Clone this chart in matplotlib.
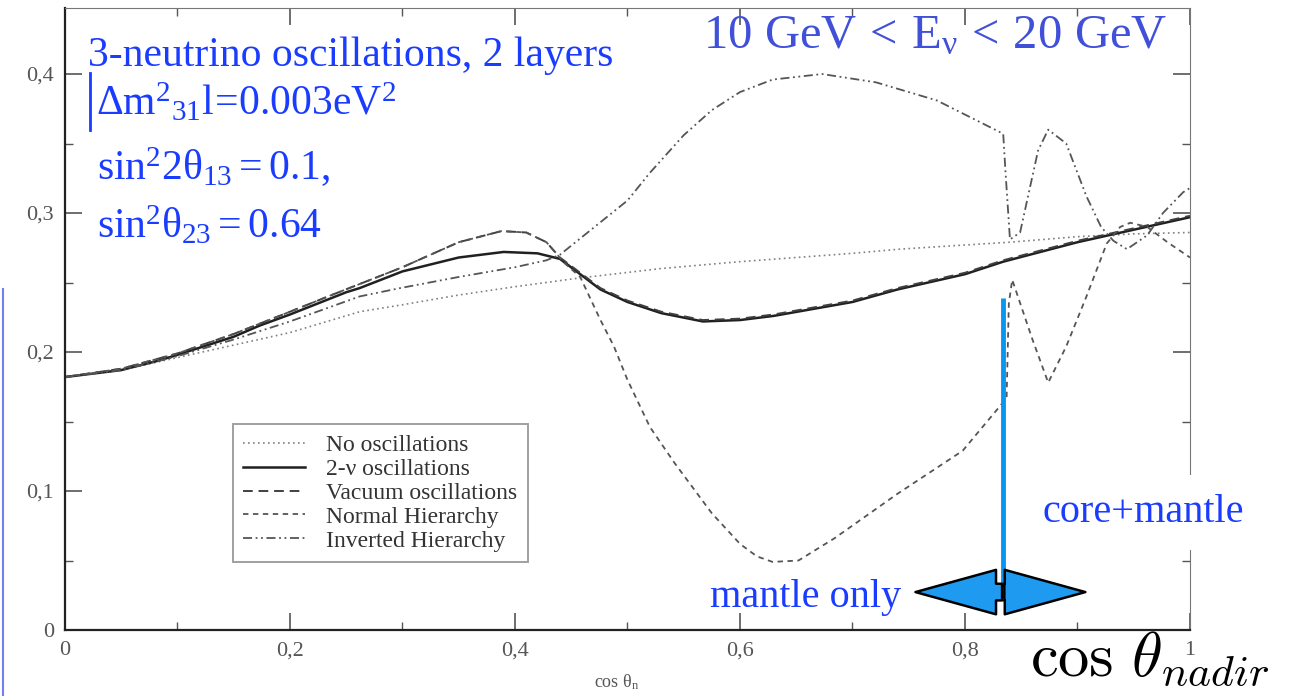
import matplotlib
matplotlib.use('Agg')
import matplotlib.pyplot as plt
from matplotlib.ticker import MultipleLocator, FuncFormatter

# curves (cos theta_nadir, fraction)
x_noosc = [0, 0.05, 0.1, 0.15, 0.2, 0.262, 0.3, 0.35, 0.4, 0.455, 0.529, 0.6, 0.7, 0.742, 0.8, 0.84, 0.9, 0.95, 1.0]
y_noosc = [0.182, 0.187, 0.196, 0.205, 0.214, 0.229, 0.234, 0.241, 0.247, 0.253, 0.260, 0.265, 0.271, 0.274, 0.277, 0.279, 0.283, 0.285, 0.286]

x_2nu = [0, 0.05, 0.084, 0.1, 0.15, 0.173, 0.2, 0.25, 0.262, 0.3, 0.35, 0.39, 0.42, 0.44, 0.476, 0.5, 0.53, 0.567,
         0.6, 0.63, 0.7, 0.74, 0.8, 0.834, 0.9, 0.95, 1.0]
y_2nu = [0.182, 0.187, 0.194, 0.198, 0.211, 0.219, 0.227, 0.243, 0.246, 0.258, 0.268, 0.272, 0.271, 0.267, 0.245, 0.236,
         0.228, 0.222, 0.223, 0.226, 0.236, 0.245, 0.256, 0.265, 0.279, 0.288, 0.297]

x_vac = [0, 0.05, 0.1, 0.15, 0.2, 0.237, 0.3, 0.311, 0.35, 0.388, 0.41, 0.428, 0.44, 0.476, 0.5, 0.53, 0.567,
         0.6, 0.63, 0.7, 0.74, 0.8, 0.834, 0.9, 0.95, 1.0]
y_vac = [0.182, 0.188, 0.199, 0.213, 0.229, 0.241, 0.261, 0.265, 0.279, 0.287, 0.286, 0.279, 0.268, 0.246, 0.237,
         0.229, 0.223, 0.224, 0.227, 0.237, 0.246, 0.257, 0.266, 0.280, 0.289, 0.298]

x_nh = [0, 0.05, 0.1, 0.15, 0.2, 0.237, 0.3, 0.311, 0.35, 0.388, 0.41, 0.428, 0.444, 0.458, 0.476, 0.488, 0.5,
        0.52, 0.542, 0.575, 0.6, 0.615, 0.629, 0.652, 0.684, 0.74, 0.798, 0.83, 0.837, 0.839, 0.842, 0.86, 0.874,
        0.89, 0.908, 0.926, 0.938, 0.947, 0.962, 0.98, 1.0]
y_nh = [0.182, 0.188, 0.199, 0.213, 0.229, 0.241, 0.261, 0.265, 0.279, 0.287, 0.286, 0.279, 0.264, 0.254, 0.223,
        0.204, 0.180, 0.146, 0.120, 0.084, 0.062, 0.053, 0.049, 0.050, 0.066, 0.098, 0.129, 0.160, 0.167, 0.235, 0.252,
        0.209, 0.178, 0.204, 0.240, 0.278, 0.290, 0.293, 0.290, 0.279, 0.268]

x_ih = [0, 0.05, 0.1, 0.15, 0.2, 0.262, 0.298, 0.35, 0.4, 0.428, 0.44, 0.46, 0.5, 0.52, 0.55, 0.575, 0.6, 0.629,
        0.673, 0.721, 0.775, 0.834, 0.836, 0.84, 0.849, 0.865, 0.874, 0.89, 0.908, 0.921, 0.932, 0.944, 0.962,
        0.976, 0.994, 1.0]
y_ih = [0.182, 0.187, 0.197, 0.209, 0.222, 0.240, 0.246, 0.254, 0.261, 0.266, 0.270, 0.283, 0.309, 0.329, 0.356,
        0.374, 0.387, 0.396, 0.400, 0.394, 0.381, 0.357, 0.330, 0.281, 0.286, 0.345, 0.360, 0.350, 0.312, 0.290,
        0.280, 0.274, 0.284, 0.300, 0.315, 0.318]

BLUE = '#1a3cff'
SERIF = ['Liberation Serif', 'DejaVu Serif']


def main():
    plt.rcParams['mathtext.fontset'] = 'custom'
    plt.rcParams['mathtext.rm'] = 'Liberation Serif'
    plt.rcParams['mathtext.it'] = 'Liberation Serif'
    plt.rcParams['mathtext.bf'] = 'Liberation Serif:bold'

    fig = plt.figure(figsize=(12.94, 6.96), dpi=100)
    ax = fig.add_axes([0.0502, 0.0948, 0.8694, 0.8937])

    ax.plot(x_noosc, y_noosc, color='#808080', lw=1.2, ls=(0, (1, 2)), label='No oscillations')
    ax.plot(x_2nu, y_2nu, color='#202020', lw=1.8, ls='-', label='2-\u03bd oscillations')
    ax.plot(x_vac, y_vac, color='#404040', lw=1.4, ls=(0, (5, 3)), label='Vacuum oscillations')
    ax.plot(x_nh, y_nh, color='#555555', lw=1.3, ls=(0, (3, 2.5)), label='Normal Hierarchy')
    ax.plot(x_ih, y_ih, color='#555555', lw=1.3, ls=(0, (5, 2, 1, 2, 1, 2)), label='Inverted Hierarchy')

    ax.set_xlim(0, 1)
    ax.set_ylim(0, 0.4475)
    ax.xaxis.set_major_locator(MultipleLocator(0.2))
    ax.xaxis.set_minor_locator(MultipleLocator(0.1))
    ax.yaxis.set_major_locator(MultipleLocator(0.1))
    ax.yaxis.set_minor_locator(MultipleLocator(0.05))
    fmt = FuncFormatter(lambda v, p: ('%g' % round(v, 3)).replace('.', ','))
    ax.xaxis.set_major_formatter(fmt)
    ax.yaxis.set_major_formatter(fmt)
    ax.tick_params(which='both', direction='in', top=True, right=True, colors='#555555',
                   labelsize=16, pad=8)
    ax.tick_params(which='major', length=12, width=1.2)
    ax.tick_params(which='minor', length=6, width=1.0)
    for lab in ax.get_xticklabels() + ax.get_yticklabels():
        lab.set_fontfamily(SERIF)
    for side in ['top', 'right']:
        ax.spines[side].set_color('#777777')
    for side in ['left', 'bottom']:
        ax.spines[side].set_color('#222222')
        ax.spines[side].set_linewidth(1.6)

    ax.set_xlabel(r'cos $\theta_{\rm n}$', fontsize=13, color='#555555', family=SERIF,
                  math_fontfamily='custom')
    ax.xaxis.set_label_coords(0.49, -0.068)

    leg = ax.legend(loc='lower left', bbox_to_anchor=(0.149, 0.109), borderaxespad=0,
                    prop={'family': SERIF, 'size': 17},
                    frameon=True, fancybox=False, edgecolor='#888888', handlelength=2.6,
                    labelspacing=0.1, borderpad=0.45, handletextpad=0.9)
    leg.get_frame().set_linewidth(1.4)
    for t in leg.get_texts():
        t.set_color('#333333')

    # blue annotations
    fig.text(0.068, 0.905, '3-neutrino oscillations, 2 layers', color=BLUE, fontsize=30, family=SERIF)
    fig.add_artist(plt.Line2D([0.0695, 0.0695], [0.813, 0.895], color=BLUE, lw=2))
    fig.text(0.074, 0.835, r'$\Delta\mathrm{m}^2{}_{31}\mathrm{l}\!=\!0.003\mathrm{eV}^2$', color=BLUE,
             fontsize=30, math_fontfamily='custom')
    fig.text(0.075, 0.741, r'$\mathrm{sin}^2 2\theta_{13} = 0.1,$', color=BLUE, fontsize=30,
             math_fontfamily='custom')
    fig.text(0.075, 0.658, r'$\mathrm{sin}^2\theta_{23} = 0.64$', color=BLUE, fontsize=30,
             math_fontfamily='custom')
    fig.text(0.543, 0.931, r'$10\ \mathrm{GeV}\,<\,\mathrm{E}_\nu\,<\,20\ \mathrm{GeV}$', color='#4050d8',
             fontsize=35, math_fontfamily='custom')

    fig.text(0.806, 0.25, 'core+mantle', color=BLUE, fontsize=29, family=SERIF,
             bbox=dict(facecolor='white', edgecolor='none', pad=14))
    fig.text(0.549, 0.128, 'mantle only', color=BLUE, fontsize=29, family=SERIF)
    fig.text(0.796, 0.029, r'$\cos\,\theta_{nadir}$', color='black', fontsize=45, math_fontfamily='cm')

    # core boundary marker and double arrow
    ax.plot([0.834, 0.834], [0.032, 0.239], color='#0a96f0', lw=3.5, solid_capstyle='butt')
    arrow_kw = dict(arrowstyle='simple,head_length=2.9,head_width=1.6,tail_width=0.6',
                    mutation_scale=20, fc='#1e9bf0', ec='black', lw=1.8, shrinkA=0, shrinkB=0)
    ax.annotate('', xy=(0.756, 0.0273), xytext=(0.833, 0.0273), arrowprops=arrow_kw)
    ax.annotate('', xy=(0.907, 0.0273), xytext=(0.835, 0.0273), arrowprops=arrow_kw)

    fig.add_artist(plt.Line2D([0.002, 0.002], [0.0, 0.585], color='#7080f0', lw=1.5))

    fig.savefig('out.png', dpi=100)


if __name__ == '__main__':
    main()
